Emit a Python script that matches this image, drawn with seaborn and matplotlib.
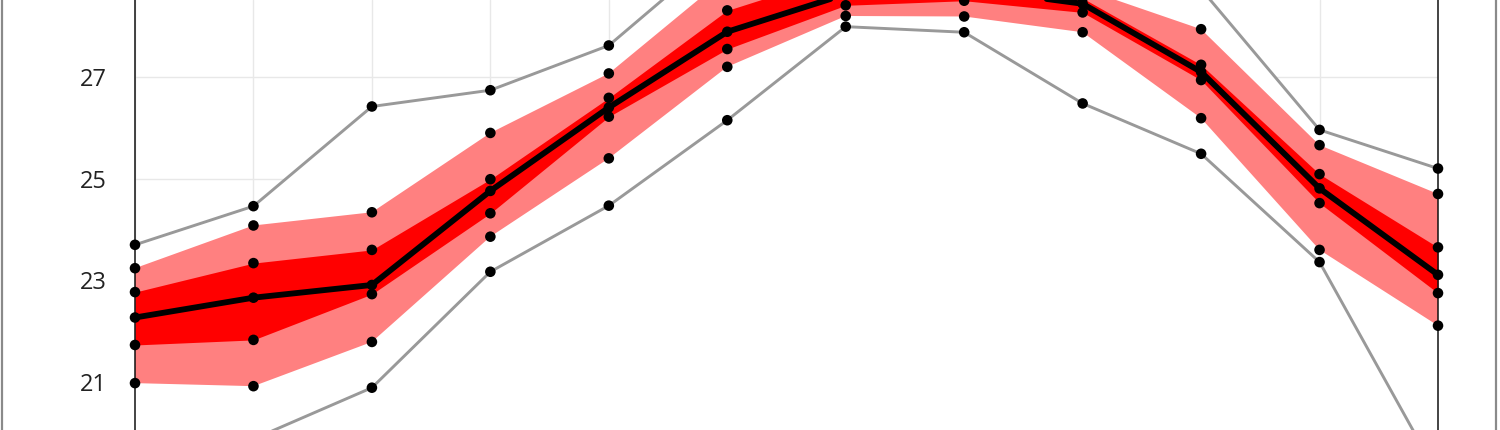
import matplotlib
matplotlib.use("Agg")
import matplotlib.pyplot as plt
import seaborn as sns
import pandas as pd
from matplotlib.lines import Line2D

# ---- data (monthly temperature distribution) ----
months = [1, 2, 3, 4, 5, 6, 7, 8, 9, 10, 11, 12]
p_max = [23.70, 24.46, 26.42, 26.74, 27.62, 29.60, 30.00, 30.00, 29.50, 28.73, 25.96, 25.20]
p_hi  = [23.24, 24.08, 24.34, 25.90, 27.07, 28.99, 29.40, 29.30, 28.74, 27.94, 25.66, 24.70]
p_q3  = [22.77, 23.34, 23.60, 24.99, 26.59, 28.31, 29.05, 29.00, 28.55, 27.24, 25.09, 23.65]
p_med = [22.27, 22.66, 22.91, 24.76, 26.40, 27.89, 28.63, 28.75, 28.44, 27.10, 24.81, 23.11]
p_q1  = [21.73, 21.83, 22.73, 24.32, 26.22, 27.55, 28.41, 28.50, 28.27, 26.94, 24.52, 22.75]
p_lo  = [20.98, 20.92, 21.79, 23.86, 25.40, 27.20, 28.20, 28.19, 27.88, 26.19, 23.60, 22.11]
p_min = [19.30, 19.88, 20.89, 23.17, 24.47, 26.15, 27.99, 27.88, 26.48, 25.49, 23.36, 19.17]
y_ticks = [21, 23, 25, 27]

df = pd.DataFrame({"month": months, "max": p_max, "hi": p_hi, "q3": p_q3,
                   "med": p_med, "q1": p_q1, "lo": p_lo, "min": p_min})
long = df.melt(id_vars="month", var_name="stat", value_name="temp")

sns.set_theme(style="white")
plt.rcParams["font.family"] = ["Open Sans", "DejaVu Sans"]

fig = plt.figure(figsize=(15, 4.3), dpi=100)
ax = fig.add_axes([135 / 1500, 0, 1303 / 1500, 1])

y_lo = 27 - 353 / 50.85
y_hi = 27 + 77 / 50.85

# grid (only visible above the max curve)
for t in y_ticks + [29]:
    ax.axhline(t, color="#e8e8e8", lw=1, zorder=0)
for m in months:
    ax.axvline(m, color="#e8e8e8", lw=1, zorder=0)
ax.fill_between(df["month"], y_lo - 5, df["max"], color="white", lw=0, zorder=0.5)

# bands
ax.fill_between(df["month"], df["lo"], df["hi"], color="#ff8080", lw=0, zorder=1)
ax.fill_between(df["month"], df["q1"], df["q3"], color="#ff0000", lw=0, zorder=2)

# min / max lines
sns.lineplot(data=df, x="month", y="max", color="#999999", lw=2.1, ax=ax, zorder=3)
sns.lineplot(data=df, x="month", y="min", color="#999999", lw=2.1, ax=ax, zorder=3)
# median
sns.lineplot(data=df, x="month", y="med", color="black", lw=4.2, ax=ax, zorder=4)
# points
sns.scatterplot(data=long, x="month", y="temp", color="black", s=58,
                edgecolor="none", ax=ax, zorder=7, clip_on=False)

ax.set_xlim(1, 12)
ax.set_ylim(y_lo, y_hi)
ax.set_yticks(y_ticks)
ax.set_yticklabels([str(t) for t in y_ticks], fontsize=17, color="#222222")
ax.tick_params(axis="y", length=0, pad=20)
ax.set_xticks([])
ax.set_xlabel("")
ax.set_ylabel("")
for s in ["top", "bottom"]:
    ax.spines[s].set_visible(False)
for s in ["left", "right"]:
    ax.spines[s].set_color("#111111")
    ax.spines[s].set_linewidth(1.1)
    ax.spines[s].set_zorder(6)

# outer frame lines
fig.add_artist(Line2D([2 / 1500, 2 / 1500], [0, 1], color="#8a8a8a", lw=1.6,
                      transform=fig.transFigure))
fig.add_artist(Line2D([1496 / 1500, 1496 / 1500], [0, 1], color="#8a8a8a", lw=1.6,
                      transform=fig.transFigure))

fig.savefig("out.png", dpi=100)
